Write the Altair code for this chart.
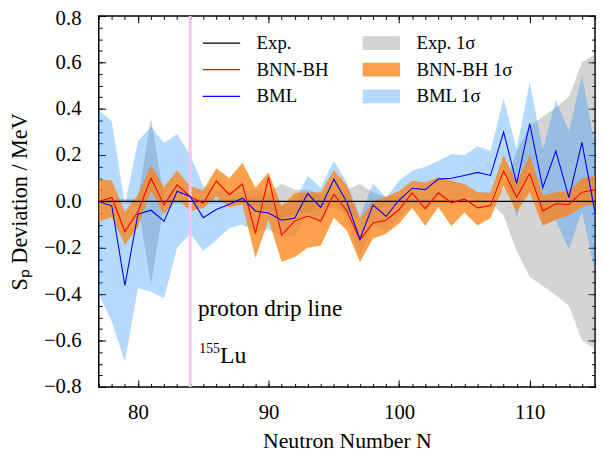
import altair as alt
import pandas as pd

# ---------------- data ----------------
N = list(range(77, 116))

bnn = [0.0, 0.017, -0.13, -0.045, 0.10, -0.015, 0.071, 0.02, -0.008, 0.088,
       0.029, 0.075, -0.138, 0.105, -0.145, -0.085, -0.063, -0.085, 0.031, -0.04,
       -0.166, -0.093, -0.081, -0.035, 0.037, -0.031, 0.037, -0.006, 0.011, -0.028,
       -0.018, 0.132, 0.018, 0.12, -0.041, -0.01, -0.013, 0.04, 0.05]
bnn_hi = [0.095, 0.09, -0.045, 0.03, 0.157, 0.063, 0.133, 0.065, 0.048, 0.143,
          0.1, 0.167, 0.06, 0.125, -0.02, 0.036, 0.04, 0.04, 0.135, 0.07,
          -0.076, 0.0, 0.02, 0.045, 0.089, 0.082, 0.104, 0.089, 0.075, 0.04,
          0.037, 0.199, 0.082, 0.2, 0.026, 0.04, 0.044, 0.1, 0.11]
bnn_lo = [-0.088, -0.068, -0.187, -0.11, 0.045, -0.055, 0.011, -0.04, -0.03, 0.02,
          -0.026, -0.012, -0.244, -0.08, -0.26, -0.24, -0.2, -0.19, -0.07, -0.125,
          -0.262, -0.16, -0.14, -0.095, -0.028, -0.105, -0.024, -0.106, -0.048, -0.104,
          -0.072, 0.068, -0.047, 0.04, -0.106, -0.078, -0.06, -0.024, -0.01]

bml = [0.0, -0.02, -0.362, -0.055, -0.038, -0.085, 0.044, 0.021, -0.07, -0.035,
       -0.012, 0.014, -0.041, -0.05, -0.081, -0.073, 0.034, -0.026, 0.096, -0.003,
       -0.163, -0.015, -0.065, 0.006, 0.057, 0.051, 0.096, 0.1, 0.112, 0.125,
       0.112, 0.299, 0.078, 0.335, 0.059, 0.217, 0.016, 0.255, -0.048]
bml_hi = [0.394, 0.345, -0.015, 0.26, 0.323, 0.252, 0.291, 0.2, 0.065, 0.05,
          0.04, 0.04, 0.054, 0.02, -0.02, 0.0, 0.11, 0.06, 0.175, 0.08,
          -0.067, 0.078, 0.016, 0.09, 0.132, 0.149, 0.174, 0.203, 0.199, 0.238,
          0.217, 0.444, 0.224, 0.515, 0.224, 0.437, 0.302, 0.543, 0.24]
bml_lo = [-0.40, -0.52, -0.69, -0.375, -0.39, -0.418, -0.2, -0.14, -0.213, -0.166,
          -0.116, -0.1, -0.13, -0.12, -0.15, -0.15, -0.05, -0.1, 0.02, -0.07,
          -0.24, -0.1, -0.13, -0.07, -0.02, -0.04, 0.02, 0.0, 0.02, 0.01,
          0.01, 0.15, -0.07, 0.16, -0.1, -0.08, -0.206, -0.045, -0.3]

exp_sig = [0.01, 0.01, 0.01, 0.01, 0.36, 0.01, 0.01, 0.01, 0.01, 0.01,
           0.01, 0.01, 0.02, 0.04, 0.075, 0.05, 0.05, 0.03, 0.03, 0.05,
           0.075, 0.04, 0.02, 0.02, 0.01, 0.01, 0.01, 0.01, 0.01, 0.01,
           0.005, 0.06, 0.215, 0.325, 0.365, 0.405, 0.45, 0.6, 0.635]
exp_dev = [0.0] * len(N)

line_names = ["Exp.", "BNN-BH", "BML"]
band_names = ["Exp. 1σ", "BNN-BH 1σ", "BML 1σ"]

x_major_ticks = [80, 90, 100, 110]
x_minor_ticks = list(range(77, 116))
y_major_ticks = [-0.8, -0.6, -0.4, -0.2, 0.0, 0.2, 0.4, 0.6, 0.8]
y_minor_ticks = [round(-0.8 + 0.05 * i, 2) for i in range(33)]

drip_N = [84]
ann_N = [84.6, 84.7, 84.7]
ann_val = [-0.494, -0.698, -0.698]
ann_text = ["proton drip line", "155", "Lu"]

# ---------------- tables ----------------
lines_df = pd.DataFrame({
    "N": N * 3,
    "dev": exp_dev + bnn + bml,
    "series": [line_names[0]] * len(N) + [line_names[1]] * len(N) + [line_names[2]] * len(N),
})
bands_df = pd.DataFrame({
    "N": N * 3,
    "lo": [-s for s in exp_sig] + bnn_lo + bml_lo,
    "hi": exp_sig + bnn_hi + bml_hi,
    "band": [band_names[0]] * len(N) + [band_names[1]] * len(N) + [band_names[2]] * len(N),
})
drip_df = pd.DataFrame({"N": drip_N})
ann_df = pd.DataFrame({"N": ann_N, "val": ann_val, "text": ann_text})

FONT = "Liberation Serif"
xs = alt.Scale(domain=[77, 115], nice=False, zero=False)
ys = alt.Scale(domain=[-0.8, 0.8], nice=False, zero=False)

fill_scale = alt.Scale(domain=band_names,
                       range=["rgba(128,128,128,0.34)", "rgba(255,127,14,0.74)", "rgba(30,144,255,0.33)"])
color_scale = alt.Scale(domain=line_names, range=["black", "red", "blue"])

line_legend = alt.Legend(orient="none", legendX=103, legendY=18, title=None,
                         symbolType="M-1,0H4.4", symbolSize=196, symbolStrokeWidth=1.2,
                         labelFont=FONT, labelFontSize=19, labelColor="black",
                         labelOffset=38, rowPadding=7, padding=0, labelLimit=300)
fill_legend = alt.Legend(orient="none", legendX=265, legendY=18, title=None,
                         symbolType="M-1,-1H4.4V1H-1Z", symbolSize=196, symbolStrokeWidth=0,
                         symbolOpacity=1,
                         labelFont=FONT, labelFontSize=19, labelColor="black",
                         labelOffset=38, rowPadding=7, padding=0, labelLimit=300)


def xaxis(kind, orient="bottom"):
    if kind == "labels":
        return alt.Axis(orient=orient, values=x_major_ticks, ticks=False, domain=False, grid=False,
                        labelFont=FONT, labelFontSize=21, labelColor="black", labelPadding=15,
                        title="Neutron Number N", titleFont=FONT, titleFontSize=22,
                        titleFontWeight="normal", titleColor="black", titlePadding=8)
    size = 7 if kind == "major" else 3.5
    vals = x_major_ticks if kind == "major" else x_minor_ticks
    return alt.Axis(orient=orient, values=vals, labels=False, domain=False, grid=False,
                    ticks=True, tickSize=size, tickWidth=1, tickColor="black",
                    offset=-size, title=None)


def yaxis(kind, orient="left"):
    if kind == "labels":
        return alt.Axis(orient=orient, values=y_major_ticks, ticks=False, domain=False, grid=False,
                        format=".1f", labelFont=FONT, labelFontSize=21, labelColor="black",
                        labelPadding=18,
                        labelOffset={"condition": {"test": "datum.value >= 0.79", "value": 3}, "value": 0},
                        title="Sₚ Deviation / MeV", titleFont=FONT,
                        titleFontSize=22.5, titleFontWeight="normal", titleColor="black",
                        titlePadding=12)
    size = 7 if kind == "major" else 3.5
    vals = y_major_ticks if kind == "major" else y_minor_ticks
    return alt.Axis(orient=orient, values=vals, labels=False, domain=False, grid=False,
                    ticks=True, tickSize=size, tickWidth=1, tickColor="black",
                    offset=-size, title=None)


def band_layer(name, xa, ya):
    return alt.Chart(bands_df).transform_filter(alt.datum.band == name).mark_area(
        interpolate="linear", opacity=1, strokeWidth=0
    ).encode(
        x=alt.X("N:Q", scale=xs, axis=xa),
        y=alt.Y("lo:Q", scale=ys, axis=ya),
        y2="hi:Q",
        fill=alt.Fill("band:N", scale=fill_scale, legend=fill_legend),
    )


gray = band_layer(band_names[0], xaxis("labels"), yaxis("labels"))
blue = band_layer(band_names[2], xaxis("major"), yaxis("major"))
orange = band_layer(band_names[1], xaxis("minor"), yaxis("minor"))

drip = alt.Chart(drip_df).mark_rule(color="#f5c3f2", strokeWidth=3).encode(
    x=alt.X("N:Q", scale=xs, axis=xaxis("major", "top"))
)

lines = alt.Chart(lines_df).mark_line(strokeWidth=1.1).encode(
    x=alt.X("N:Q", scale=xs, axis=xaxis("minor", "top")),
    y=alt.Y("dev:Q", scale=ys, axis=yaxis("major", "right")),
    color=alt.Color("series:N", scale=color_scale, legend=line_legend),
)

carrier = alt.Chart(lines_df).mark_point(opacity=0).encode(
    x=alt.X("N:Q", scale=xs, axis=None),
    y=alt.Y("dev:Q", scale=ys, axis=yaxis("minor", "right")),
)

txt_main = alt.Chart(ann_df).transform_filter(alt.datum.text == "proton drip line").mark_text(
    align="left", baseline="alphabetic", font=FONT, fontSize=23.5, color="black"
).encode(x=alt.X("N:Q", scale=xs, axis=None), y=alt.Y("val:Q", scale=ys, axis=None), text="text:N")

txt_sup = alt.Chart(ann_df).transform_filter(alt.datum.text == "155").mark_text(
    align="left", baseline="alphabetic", font=FONT, fontSize=14, color="black", dy=-10
).encode(x=alt.X("N:Q", scale=xs, axis=None), y=alt.Y("val:Q", scale=ys, axis=None), text="text:N")

txt_lu = alt.Chart(ann_df).transform_filter(alt.datum.text == "Lu").mark_text(
    align="left", baseline="alphabetic", font=FONT, fontSize=24, color="black", dx=21
).encode(x=alt.X("N:Q", scale=xs, axis=None), y=alt.Y("val:Q", scale=ys, axis=None), text="text:N")

chart = alt.layer(
    gray, blue, orange, drip, lines, carrier, txt_main, txt_sup, txt_lu
).resolve_axis(x="independent", y="independent").properties(
    width=503, height=376,
    padding={"left": 92, "top": 5, "right": 1, "bottom": 66},
    autosize=alt.AutoSizeParams(type="none"),
    background="white",
).configure(font=FONT).configure_axis(
    labelFont=FONT, titleFont=FONT
).configure_legend(labelFont=FONT).configure_view(stroke="black", strokeWidth=1.5)

chart.save("out.html", embed_options={"renderer": "svg", "actions": False})
